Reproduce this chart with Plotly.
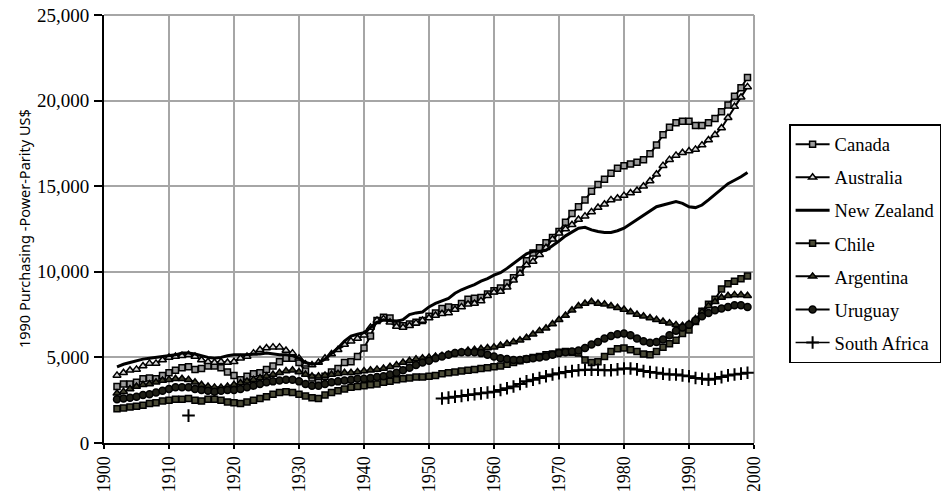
import plotly.graph_objects as go

years = list(range(1902, 2000))

canada = [3300, 3450, 3450, 3550, 3750, 3800, 3750, 3950, 4100, 4250,
          4400, 4450, 4300, 4350, 4500, 4500, 4400, 4150, 3950, 3700,
          3900, 4050, 4100, 4300, 4500, 4750, 4950, 4950, 4700, 4200,
          3800, 3550, 3900, 4150, 4350, 4700, 4750, 5050, 5550, 6250,
          7150, 7350, 7300, 7000, 6850, 6950, 7050, 7150, 7400, 7600,
          7850, 7950, 7900, 8150, 8400, 8450, 8500, 8700, 8900, 9050,
          9350, 9650, 10100, 10650, 11100, 11400, 11700, 12000, 12350, 12900,
          13400, 13800, 14200, 14700, 15100, 15400, 15750, 16050, 16200, 16300,
          16400, 16550, 16900, 17400, 18000, 18450, 18700, 18800, 18800, 18550,
          18550, 18700, 18950, 19350, 19750, 20250, 20750, 21350]

australia = [3950, 4100, 4250, 4300, 4500, 4650, 4650, 4850, 5000, 5050,
             5100, 5150, 5050, 4850, 4750, 4700, 4750, 4700, 4750, 4950,
             5050, 5250, 5450, 5550, 5600, 5600, 5400, 5250, 4950, 4600,
             4550, 4700, 4950, 5200, 5450, 5750, 5950, 6100, 6300, 6750,
             7150, 7250, 7050, 6800, 6750, 6850, 7000, 7150, 7300, 7450,
             7550, 7600, 7800, 7950, 8100, 8150, 8300, 8600, 8800, 8850,
             9100, 9500, 9900, 10400, 10600, 11000, 11400, 11900, 12250, 12500,
             12750, 13050, 13250, 13500, 13750, 13950, 14200, 14300, 14450, 14600,
             14750, 15000, 15300, 15700, 16200, 16550, 16800, 16950, 17050, 17150,
             17400, 17700, 18000, 18400, 19000, 19650, 20200, 20800]

new_zealand = [4450, 4600, 4700, 4800, 4900, 4950, 5000, 5050, 5100, 5150,
               5250, 5250, 5200, 5100, 5000, 4950, 5000, 5100, 5150, 5150,
               5150, 5200, 5200, 5250, 5200, 5150, 5150, 5100, 4950, 4700,
               4600, 4650, 4900, 5200, 5550, 5950, 6250, 6350, 6450, 6750,
               7050, 7200, 7150, 7100, 7200, 7500, 7600, 7650, 7950, 8150,
               8300, 8450, 8750, 8950, 9100, 9250, 9450, 9600, 9800, 9950,
               10200, 10500, 10800, 11050, 11200, 11200, 11250, 11500, 11800, 12100,
               12350, 12550, 12600, 12450, 12350, 12300, 12300, 12400, 12550, 12800,
               13050, 13300, 13600, 13800, 13900, 14000, 14100, 14000, 13800, 13750,
               13900, 14200, 14500, 14850, 15150, 15350, 15550, 15800]

chile = [2000, 2050, 2100, 2150, 2200, 2300, 2350, 2450, 2500, 2550,
         2550, 2600, 2500, 2450, 2550, 2550, 2500, 2400, 2350, 2300,
         2400, 2500, 2600, 2700, 2850, 2950, 3000, 2950, 2850, 2750,
         2650, 2600, 2800, 2950, 3050, 3150, 3250, 3300, 3350, 3400,
         3450, 3550, 3600, 3700, 3750, 3800, 3850, 3850, 3900, 3950,
         4050, 4100, 4150, 4200, 4250, 4300, 4350, 4400, 4450, 4500,
         4600, 4700, 4800, 4900, 5000, 5050, 5150, 5200, 5300, 5350,
         5300, 5250, 4850, 4700, 4750, 5050, 5350, 5500, 5550, 5450,
         5350, 5200, 5150, 5350, 5600, 5800, 6000, 6400, 6600, 7100,
         7700, 8100, 8400, 9000, 9300, 9450, 9600, 9750]

argentina = [2900, 3000, 3150, 3300, 3400, 3450, 3550, 3650, 3700, 3750,
             3750, 3700, 3550, 3400, 3300, 3250, 3250, 3300, 3400, 3500,
             3600, 3700, 3800, 3900, 4000, 4100, 4200, 4250, 4150, 4000,
             3900, 3900, 3950, 4000, 4050, 4100, 4100, 4150, 4200, 4250,
             4300, 4350, 4450, 4550, 4700, 4800, 4900, 4950, 5000, 5050,
             5100, 5150, 5250, 5300, 5400, 5450, 5500, 5550, 5600, 5700,
             5800, 5900, 6000, 6150, 6350, 6550, 6700, 6950, 7200, 7450,
             7750, 8000, 8150, 8250, 8150, 8100, 8000, 7900, 7800, 7650,
             7500, 7400, 7300, 7200, 7100, 7000, 6900, 6850, 6950, 7250,
             7650, 8000, 8250, 8500, 8600, 8650, 8650, 8600]

uruguay = [2550, 2600, 2650, 2700, 2800, 2850, 2950, 3050, 3150, 3250,
           3250, 3250, 3150, 3100, 3050, 3000, 3050, 3100, 3100, 3150,
           3250, 3350, 3450, 3550, 3600, 3650, 3700, 3700, 3600, 3450,
           3350, 3350, 3450, 3550, 3600, 3650, 3700, 3750, 3750, 3800,
           3850, 3900, 4000, 4100, 4250, 4400, 4550, 4700, 4800, 4950,
           5050, 5150, 5250, 5300, 5300, 5300, 5250, 5150, 5050, 4950,
           4900, 4850, 4850, 4900, 4950, 5000, 5050, 5150, 5250, 5300,
           5350, 5400, 5550, 5750, 5900, 6100, 6250, 6350, 6400, 6300,
           6100, 5950, 5850, 5900, 6050, 6300, 6550, 6750, 6900, 7150,
           7400, 7600, 7750, 7850, 7950, 8050, 8050, 7950]

sa_early_years = [1913]
sa_early = [1600]
sa_years = list(range(1952, 2000))
south_africa = [2600, 2650, 2700, 2750, 2800, 2850, 2900, 2950, 3000, 3100,
                3200, 3300, 3450, 3600, 3700, 3800, 3900, 4000, 4080, 4150,
                4200, 4250, 4280, 4280, 4280, 4250, 4250, 4300, 4350, 4350,
                4300, 4200, 4150, 4100, 4050, 4000, 4000, 3950, 3900, 3800,
                3750, 3700, 3750, 3850, 3950, 4000, 4050, 4100]

x_ticks = list(range(1900, 2001, 10))
y_ticks = [0, 5000, 10000, 15000, 20000, 25000]
y_title = "1990 Purchasing -Power-Parity US$"

SERIF = "Liberation Serif"
GRID = "#a6a6a6"

fig = go.Figure()


def add(name, xs, ys, symbol=None, fill=None, size=6, lw=2, i=0):
    if symbol is None:
        fig.add_trace(go.Scatter(x=xs, y=ys, name=name, mode="lines",
                                 line=dict(color="black", width=lw),
                                 legendgroup=f"g{i}"))
        return
    if symbol == "cross-thin":
        mk = dict(symbol=symbol, size=size, color="black",
                  line=dict(color="black", width=2))
    else:
        mk = dict(symbol=symbol, size=size, color=fill,
                  line=dict(color="black", width=1.5))
    fig.add_trace(go.Scatter(x=xs, y=ys, name=name, mode="lines+markers",
                             line=dict(color="black", width=lw),
                             marker=mk, legendgroup=f"g{i}",
                             connectgaps=False))


add("Canada", years, canada, "square", "#9a9a9a", 6, 2, 0)
add("Australia", years, australia, "triangle-up", "#d8d8d8", 7, 2, 1)
add("New Zealand", years, new_zealand, None, None, 0, 3, 2)
add("Chile", years, chile, "square", "#4a4a36", 6, 2, 3)
add("Argentina", years, argentina, "triangle-up", "#3e3e2c", 7, 2, 4)
add("Uruguay", years, uruguay, "circle", "#1e1e16", 7, 2, 5)
add("South Africa", sa_early_years + [None] + sa_years,
    sa_early + [None] + south_africa, "cross-thin", None, 9, 1.5, 6)

fig.update_layout(
    width=951, height=491,
    margin=dict(l=104, r=197, t=15, b=48, autoexpand=False),
    paper_bgcolor="white", plot_bgcolor="white",
    font=dict(family=SERIF, size=18, color="black"),
    showlegend=True,
    legend=dict(x=1.054, y=0.745, xanchor="left", yanchor="top",
                bordercolor="black", borderwidth=1.5, bgcolor="white",
                font=dict(family=SERIF, size=18.5, color="black"),
                tracegroupgap=6, itemwidth=34),
    shapes=[
        dict(type="line", xref="paper", yref="paper", x0=0, x1=1, y0=1, y1=1,
             line=dict(color=GRID, width=2), layer="below"),
        dict(type="line", xref="paper", yref="paper", x0=1, x1=1, y0=0, y1=1,
             line=dict(color=GRID, width=2), layer="below"),
    ],
    annotations=[
        dict(text=y_title, xref="paper", yref="paper", x=-0.123, y=0.5,
             xanchor="center", yanchor="middle", textangle=-90,
             showarrow=False,
             font=dict(family="Noto Sans", size=14.5, color="black")),
    ],
)

fig.update_xaxes(range=[1900, 2000], tickvals=x_ticks,
                 ticktext=[str(v) for v in x_ticks], tickangle=-90,
                 showline=True, linecolor="black", linewidth=2,
                 ticks="outside", ticklen=4, tickcolor="black", tickwidth=2,
                 showgrid=True, gridcolor=GRID, gridwidth=2,
                 zeroline=False, automargin=False,
                 ticklabeloverflow="allow",
                 tickfont=dict(family=SERIF, size=18))
fig.update_yaxes(range=[0, 25000], tickvals=y_ticks,
                 ticktext=[f"{v:,}" for v in y_ticks],
                 showline=True, linecolor="black", linewidth=2,
                 ticks="outside", ticklen=8, tickcolor="black", tickwidth=2,
                 showgrid=True, gridcolor=GRID, gridwidth=2,
                 zeroline=False, automargin=False,
                 ticklabeloverflow="allow", ticklabelstandoff=1,
                 tickfont=dict(family=SERIF, size=19))

fig.write_html("out.html",
               config={"displayModeBar": False},
               post_script="document.body.style.margin='0';"
                           "document.body.style.padding='0';"
                           "document.body.style.overflow='hidden';")
